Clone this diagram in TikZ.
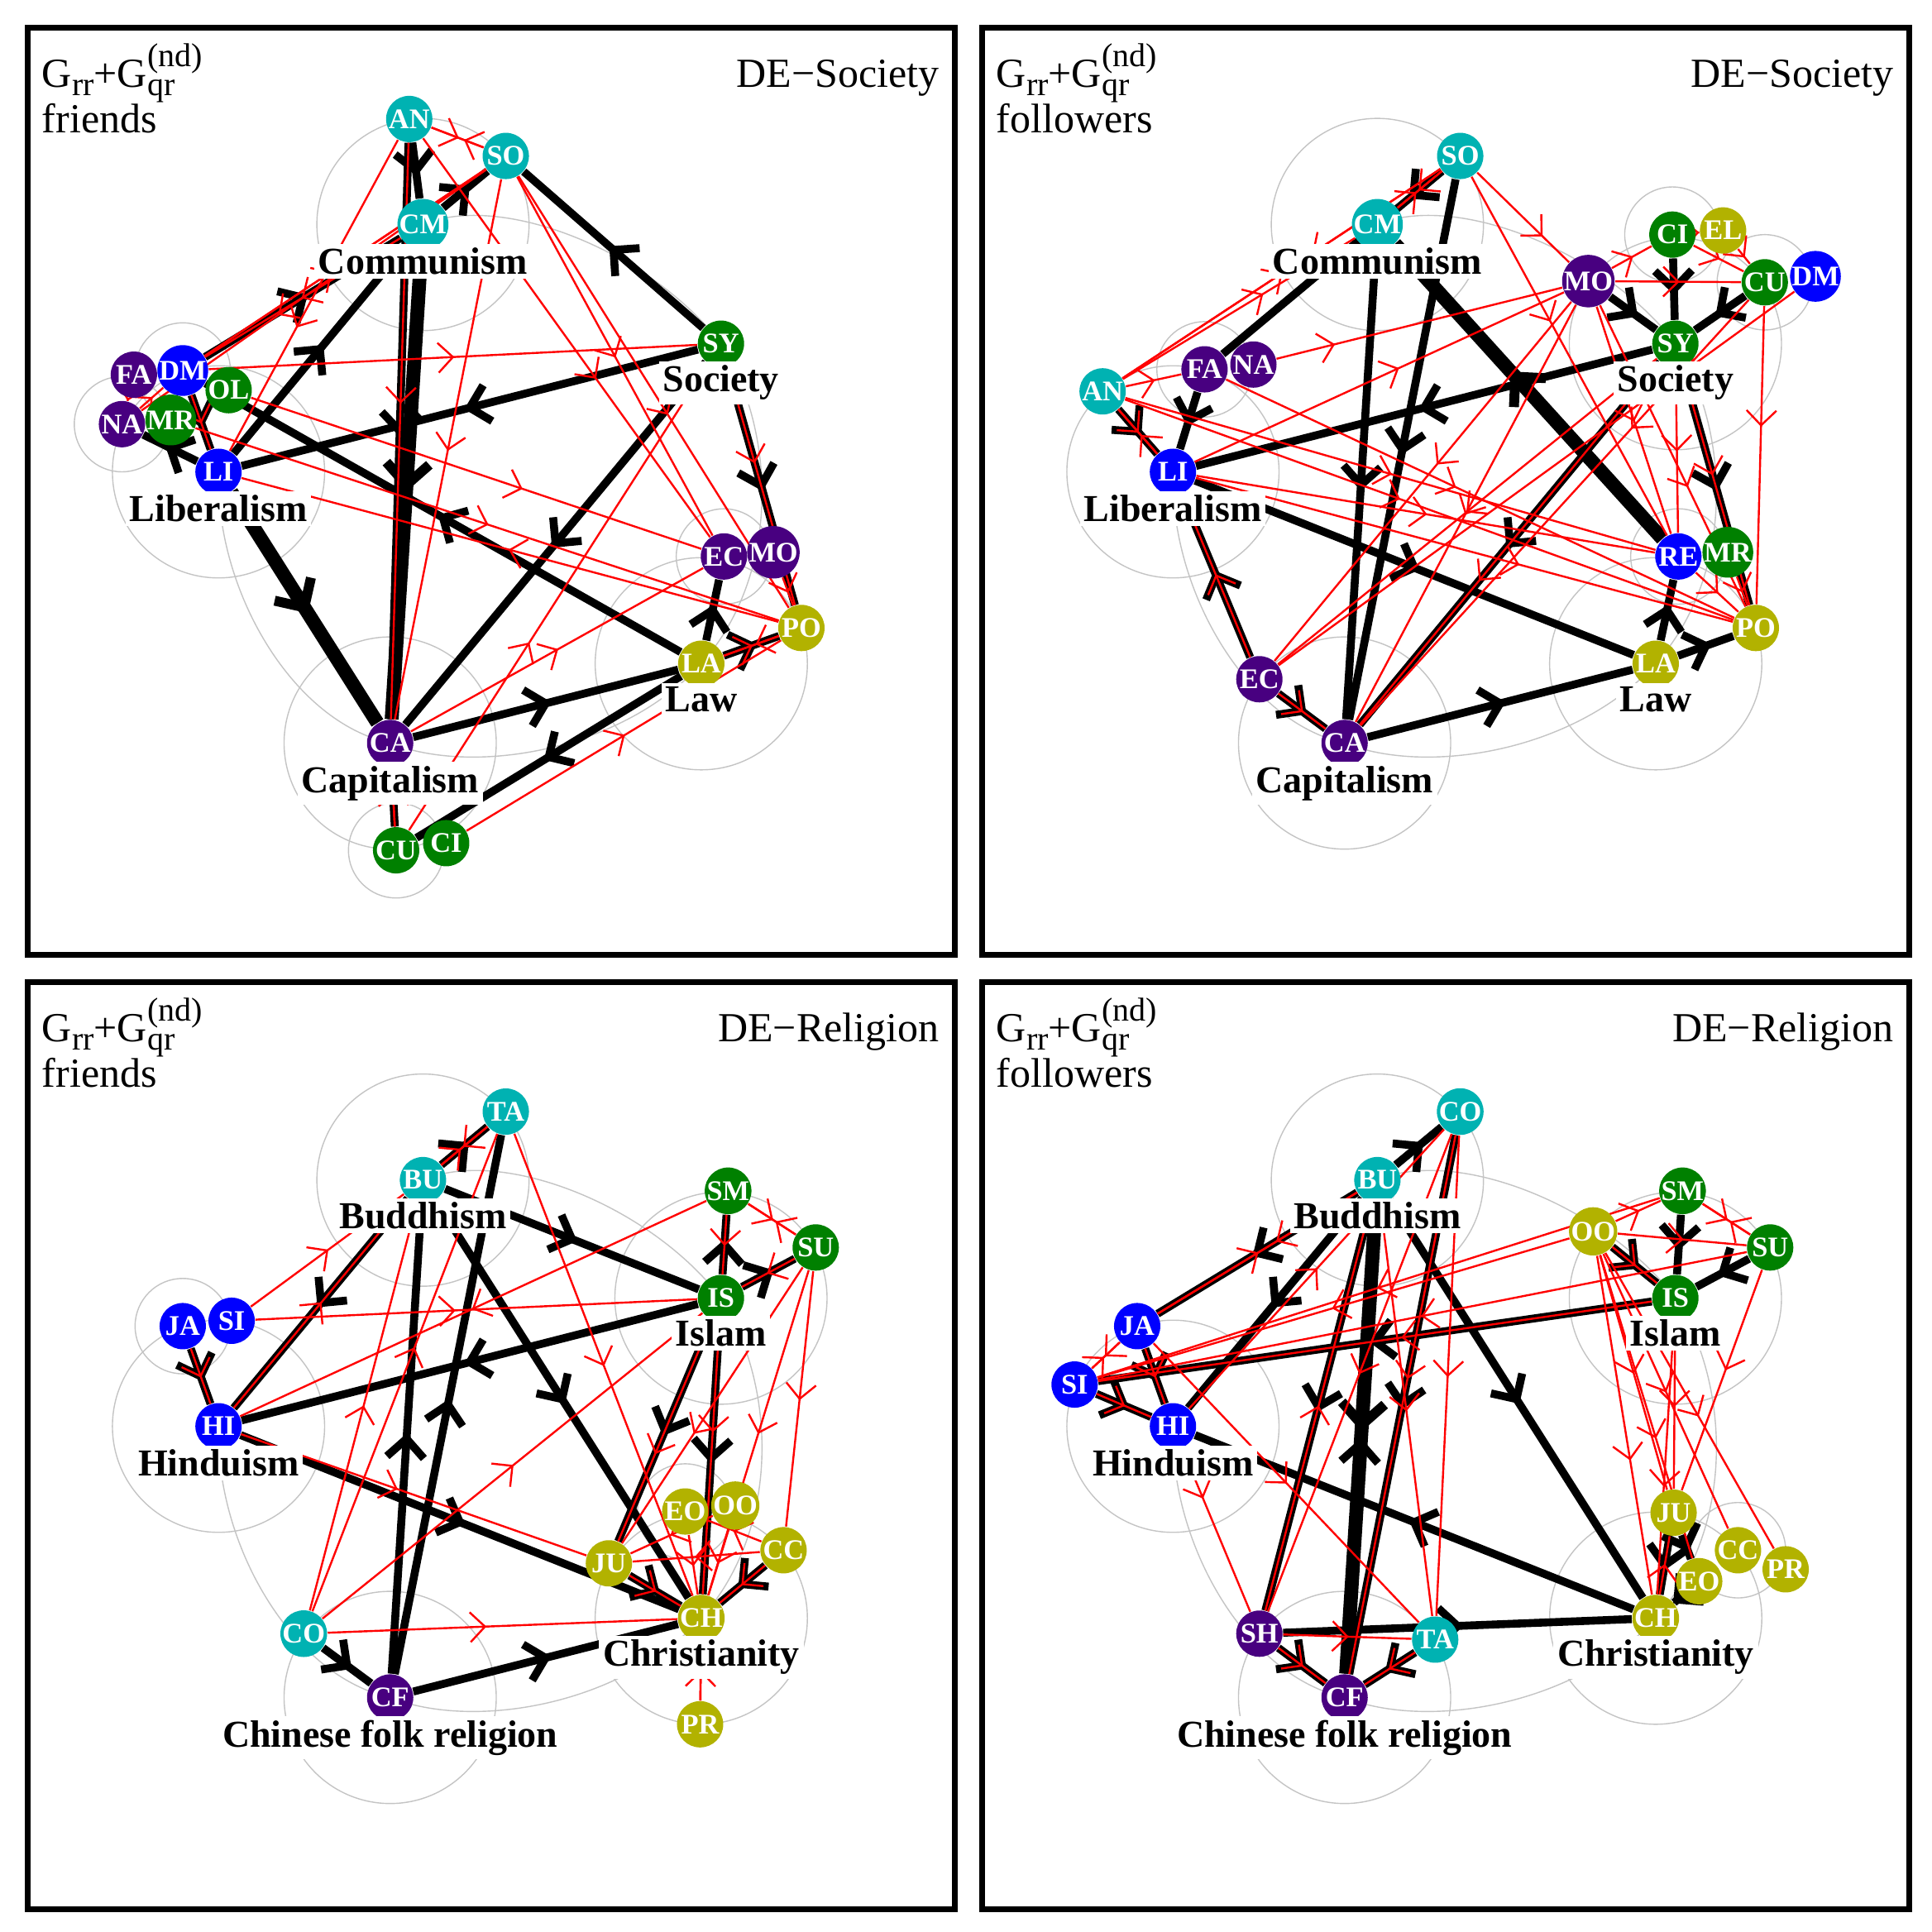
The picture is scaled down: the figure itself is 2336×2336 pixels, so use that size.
\documentclass[tikz,border=0pt]{standalone}
\usepackage{fontspec}
\setmainfont{Liberation Serif}
\usetikzlibrary{decorations.markings}
\pgfdeclarelayer{bg}
\pgfsetlayers{bg,main}
\definecolor{cyn}{RGB}{0,178,178}
\definecolor{pur}{RGB}{72,0,128}
\definecolor{grn}{RGB}{0,128,0}
\definecolor{olv}{RGB}{178,178,0}
\definecolor{gry}{RGB}{196,196,196}
\newcommand{\subsz}{\fontsize{10}{10}\selectfont}
\newcommand{\grrhead}{G\smash{\raisebox{-2.4pt}{\subsz rr}}+G\rlap{\raisebox{6.3pt}{\subsz (nd)}}\smash{\raisebox{-2.4pt}{\subsz qr}}}
\tikzset{
 nd/.style={circle, minimum size=14pt, inner sep=0pt, text=white, font=\bfseries\fontsize{8.6}{8.6}\selectfont},
 cy/.style={nd, fill=cyn}, pu/.style={nd, fill=pur}, bu/.style={nd, fill=blue},
 gr/.style={nd, fill=grn}, ol/.style={nd, fill=olv},
 lab/.style={fill=white, inner sep=1.2pt, anchor=base, font=\bfseries\fontsize{11.5}{11.5}\selectfont},
 hd/.style={font=\fontsize{12.5}{12.5}\selectfont, inner sep=0pt},
 frm/.style={line width=1.75pt},
 gc/.style={draw=gry, line width=0.35pt},
 bk/.style={line width=2.4pt, postaction={decorate}, decoration={markings, mark=at position #1 with {\draw[black, line width=2.4pt] (-5.6pt,5.6pt) -- (0pt,0pt) -- (-5.6pt,-5.6pt);}}},
 bk/.default=0.5,
 bkk/.style={line width=4.2pt, postaction={decorate}, decoration={markings, mark=at position #1 with {\draw[black, line width=3pt] (-6.5pt,6.5pt) -- (0pt,0pt) -- (-6.5pt,-6.5pt);}}},
 bkk/.default=0.5,
 rd/.style={red, line width=0.6pt, postaction={decorate}, decoration={markings, mark=at position #1 with {\draw[red, line width=0.6pt] (-4.5pt,4.5pt) -- (0pt,0pt) -- (-4.5pt,-4.5pt);}}},
 rd/.default=0.5,
}
\begin{document}
\begin{tikzpicture}[x=0.25pt,y=-0.25pt]
\begin{pgfonlayer}{bg}\fill[white] (0,0) rectangle (2336,2336);\end{pgfonlayer}
\useasboundingbox (0,0) rectangle (2336,2336);

% ================= Panel A: friends, DE-Society =================
\begin{scope}[shift={(30,30)},x=0.180165pt,y=-0.180165pt]
\draw[frm] (5,5) rectangle (1560,1560);
\node[hd,anchor=base west] (aH1) at (28,105) {\grrhead};
\node[hd,anchor=base west] (aH2) at (28,181) {friends};
\node[hd,anchor=base east] (aH3) at (1535,105) {DE−Society};
\node[cy] (aAN) at (645,158) {AN};
\node[cy] (aSO) at (807,220) {SO};
\node[cy] (aCM) at (668,335) {CM};
\node[gr] (aSY) at (1168,535) {SY};
\node[pu] (aFA) at (183,587) {FA};
\node[bu] (aDM) at (265,580) {DM};
\node[gr] (aOL) at (342,613) {OL};
\node[pu] (aNA) at (163,670) {NA};
\node[gr] (aMR) at (245,663) {MR};
\node[bu] (aLI) at (325,750) {LI};
\node[pu] (aEC) at (1173,892) {EC};
\node[pu] (aMO) at (1256,885) {MO};
\node[ol] (aPO) at (1303,1012) {PO};
\node[ol] (aLA) at (1135,1072) {LA};
\node[pu] (aCA) at (613,1205) {CA};
\node[gr] (aCU) at (623,1385) {CU};
\node[gr] (aCI) at (707,1373) {CI};
\node[lab] (aCMl) at (668,418) {Communism};
\node[lab] (aSYl) at (1168,616) {Society};
\node[lab] (aLIl) at (325,833) {Liberalism};
\node[lab] (aLAl) at (1135,1153) {Law};
\node[lab] (aCAl) at (613,1288) {Capitalism};
\begin{pgfonlayer}{bg}
\foreach \n in {CM,LI,CA,LA} \draw[gc] (a\n.center) circle[radius=178];
\foreach \n in {DM,NA,EC,CU} \draw[gc] (a\n.center) circle[radius=80];
\draw[gc] (aCM.center) .. controls (800,280) and (1050,380) .. (aSY.center);
\draw[gc] (aLI.center) .. controls (320,950) and (450,1170) .. (aCA.center);
\draw[gc] (aCA.center) .. controls (750,1260) and (1000,1220) .. (aLA.center);
\draw[gc] (aSY.center) .. controls (1260,680) and (1270,920) .. (aLA.center);
\foreach \s/\t in {SY/SO,SY/LI,SY/CA,LI/CM,DM/CM,LA/DM,CA/LA,LA/CU,CA/CU,LA/EC,LA/PO,SY/PO,CM/SO,AN/CM,AN/CA,LI/NA,DM/LI}
  \draw[bk] (a\s) -- (a\t);
\foreach \s/\t in {LI/CA,CM/CA} \draw[bkk] (a\s) -- (a\t);
\foreach \s/\t/\p in {AN/SO/0.5,SO/AN/0.35,SO/DM/0.55,DM/SO/0.45,CM/DM/0.5,SO/NA/0.6,AN/LI/0.6,AN/EC/0.6,DM/SY/0.5,SO/EC/0.5,SO/PO/0.55,PO/LI/0.5,MR/PO/0.5,OL/EC/0.6,CA/EC/0.5,CU/SY/0.4,CI/PO/0.5,LA/PO/0.5,PO/LA/0.4,SY/PO/0.4,MO/PO/0.5,CA/CU/0.5,CU/CA/0.6,AN/CA/0.45,SO/CA/0.5,DM/LI/0.5,FA/NA/0.5,NA/DM/0.5}
  \draw[rd=\p] (a\s) -- (a\t);
\end{pgfonlayer}
\end{scope}

% ================= Panel B: followers, DE-Society =================
\begin{scope}[shift={(1184,30)},x=0.180165pt,y=-0.180165pt]
\draw[frm] (5,5) rectangle (1560,1560);
\node[hd,anchor=base west] (bH1) at (28,105) {\grrhead};
\node[hd,anchor=base west] (bH2) at (28,181) {followers};
\node[hd,anchor=base east] (bH3) at (1535,105) {DE−Society};
\node[cy] (bSO) at (807,220) {SO};
\node[cy] (bCM) at (668,335) {CM};
\node[gr] (bCI) at (1163,352) {CI};
\node[ol] (bEL) at (1248,345) {EL};
\node[pu] (bMO) at (1022,430) {MO};
\node[gr] (bCU) at (1318,432) {CU};
\node[bu] (bDM) at (1403,422) {DM};
\node[gr] (bSY) at (1168,535) {SY};
\node[pu] (bFA) at (378,578) {FA};
\node[pu] (bNA) at (460,570) {NA};
\node[cy] (bAN) at (207,615) {AN};
\node[bu] (bLI) at (325,750) {LI};
\node[bu] (bRE) at (1173,892) {RE};
\node[gr] (bMR) at (1256,885) {MR};
\node[ol] (bPO) at (1303,1012) {PO};
\node[ol] (bLA) at (1135,1072) {LA};
\node[pu] (bEC) at (470,1098) {EC};
\node[pu] (bCA) at (613,1205) {CA};
\node[lab] (bCMl) at (668,418) {Communism};
\node[lab] (bSYl) at (1168,616) {Society};
\node[lab] (bLIl) at (325,833) {Liberalism};
\node[lab] (bLAl) at (1135,1153) {Law};
\node[lab] (bCAl) at (613,1288) {Capitalism};
\begin{pgfonlayer}{bg}
\foreach \n in {CM,SY,LI,CA,LA} \draw[gc] (b\n.center) circle[radius=178];
\foreach \n in {FA,CI,CU,RE} \draw[gc] (b\n.center) circle[radius=80];
\draw[gc] (bCM.center) .. controls (800,280) and (1050,380) .. (bSY.center);
\draw[gc] (bLI.center) .. controls (320,950) and (450,1170) .. (bCA.center);
\draw[gc] (bCA.center) .. controls (750,1260) and (1000,1220) .. (bLA.center);
\draw[gc] (bSY.center) .. controls (1260,680) and (1270,920) .. (bLA.center);
\foreach \s/\t in {SO/CA,CM/CA,SY/LI,SY/CA,MO/SY,CI/SY,CU/SY,SY/PO,LI/LA,CA/LA,LA/RE,LA/PO,AN/LI,FA/LI,EC/LI,EC/CA}
  \draw[bk] (b\s) -- (b\t);
\draw[bk=0.13] (bSO) -- (bFA);
\draw[bkk=0.55] (bRE) -- (bCM);
\foreach \s/\t/\p in {SO/CM/0.5,CM/SO/0.4,AN/SO/0.5,SO/AN/0.4,AN/CM/0.6,SO/MO/0.7,SO/RE/0.4,NA/MO/0.2,LI/MO/0.55,AN/FA/0.5,AN/RE/0.5,AN/PO/0.45,FA/PO/0.45,LI/RE/0.5,LI/PO/0.6,MO/EC/0.45,SY/EC/0.5,MO/CA/0.5,CU/PO/0.4,DM/EC/0.2,CU/CA/0.3,SY/CA/0.6,MO/CI/0.5,MO/CU/0.5,CI/CU/0.5,EL/CU/0.5,CI/EL/0.5,MO/RE/0.5,MO/PO/0.6,SY/PO/0.45,EC/LI/0.5,EC/CA/0.5,AN/LI/0.5,LI/AN/0.4,RE/PO/0.5,MR/PO/0.5,SY/RE/0.5}
  \draw[rd=\p] (b\s) -- (b\t);
\end{pgfonlayer}
\end{scope}

% ================= Panel C: friends, DE-Religion =================
\begin{scope}[shift={(30,1184)},x=0.180165pt,y=-0.180165pt]
\draw[frm] (5,5) rectangle (1560,1560);
\node[hd,anchor=base west] (cH1) at (28,105) {\grrhead};
\node[hd,anchor=base west] (cH2) at (28,181) {friends};
\node[hd,anchor=base east] (cH3) at (1535,105) {DE−Religion};
\node[cy] (cTA) at (807,222) {TA};
\node[cy] (cBU) at (668,337) {BU};
\node[gr] (cSM) at (1180,355) {SM};
\node[gr] (cSU) at (1327,450) {SU};
\node[gr] (cIS) at (1168,535) {IS};
\node[bu] (cJA) at (265,582) {JA};
\node[bu] (cSI) at (347,573) {SI};
\node[bu] (cHI) at (325,750) {HI};
\node[ol] (cEO) at (1108,893) {EO};
\node[ol] (cOO) at (1192,883) {OO};
\node[ol] (cCC) at (1273,958) {CC};
\node[ol] (cJU) at (980,980) {JU};
\node[ol] (cCH) at (1135,1072) {CH};
\node[ol] (cPR) at (1133,1250) {PR};
\node[cy] (cCO) at (468,1098) {CO};
\node[pu] (cCF) at (613,1205) {CF};
\node[lab] (cBUl) at (668,418) {Buddhism};
\node[lab] (cISl) at (1168,616) {Islam};
\node[lab] (cHIl) at (325,833) {Hinduism};
\node[lab] (cCHl) at (1135,1153) {Christianity};
\node[lab] (cCFl) at (613,1288) {Chinese folk religion};
\begin{pgfonlayer}{bg}
\foreach \n in {BU,IS,HI,CF,CH} \draw[gc] (c\n.center) circle[radius=178];
\foreach \n in {JA,EO} \draw[gc] (c\n.center) circle[radius=80];
\draw[gc] (cBU.center) .. controls (800,280) and (1050,380) .. (cIS.center);
\draw[gc] (cHI.center) .. controls (320,950) and (450,1170) .. (cCF.center);
\draw[gc] (cCF.center) .. controls (750,1260) and (1000,1220) .. (cCH.center);
\draw[gc] (cIS.center) .. controls (1260,680) and (1270,920) .. (cCH.center);
\foreach \s/\t in {BU/TA,CF/TA,CF/BU,BU/HI,BU/IS,BU/CH,IS/HI,HI/CH,JA/HI,IS/SM,IS/SU,IS/CH,IS/JU,CC/CH,JU/CH,CO/CF,CF/CH}
  \draw[bk] (c\s) -- (c\t);
\foreach \s/\t/\p in {TA/BU/0.5,BU/TA/0.4,TA/CH/0.5,SI/BU/0.5,SI/IS/0.45,SM/HI/0.5,HI/BU/0.5,CO/BU/0.5,CO/TA/0.55,CO/IS/0.5,CO/CH/0.45,HI/JU/0.45,JA/HI/0.5,SU/CH/0.5,SM/SU/0.5,SU/SM/0.4,IS/CH/0.4,IS/JU/0.6,PR/CH/0.5,CH/PR/0.4,JU/CH/0.5,EO/CH/0.5,OO/CH/0.5,CC/CH/0.5,CC/JU/0.5,OO/JU/0.5,SU/JU/0.6,SU/IS/0.5,SM/IS/0.5,CC/EO/0.5,SU/CC/0.5}
  \draw[rd=\p] (c\s) -- (c\t);
\end{pgfonlayer}
\end{scope}

% ================= Panel D: followers, DE-Religion =================
\begin{scope}[shift={(1184,1184)},x=0.180165pt,y=-0.180165pt]
\draw[frm] (5,5) rectangle (1560,1560);
\node[hd,anchor=base west] (dH1) at (28,105) {\grrhead};
\node[hd,anchor=base west] (dH2) at (28,181) {followers};
\node[hd,anchor=base east] (dH3) at (1535,105) {DE−Religion};
\node[cy] (dCO) at (807,222) {CO};
\node[cy] (dBU) at (668,337) {BU};
\node[gr] (dSM) at (1180,355) {SM};
\node[ol] (dOO) at (1030,423) {OO};
\node[gr] (dSU) at (1327,450) {SU};
\node[gr] (dIS) at (1168,535) {IS};
\node[bu] (dJA) at (265,582) {JA};
\node[bu] (dSI) at (160,680) {SI};
\node[bu] (dHI) at (325,750) {HI};
\node[ol] (dJU) at (1165,895) {JU};
\node[ol] (dCC) at (1273,958) {CC};
\node[ol] (dPR) at (1353,990) {PR};
\node[ol] (dEO) at (1208,1010) {EO};
\node[ol] (dCH) at (1135,1072) {CH};
\node[pu] (dSH) at (470,1098) {SH};
\node[cy] (dTA) at (765,1108) {TA};
\node[pu] (dCF) at (613,1205) {CF};
\node[lab] (dBUl) at (668,418) {Buddhism};
\node[lab] (dISl) at (1168,616) {Islam};
\node[lab] (dHIl) at (325,833) {Hinduism};
\node[lab] (dCHl) at (1135,1153) {Christianity};
\node[lab] (dCFl) at (613,1288) {Chinese folk religion};
\begin{pgfonlayer}{bg}
\foreach \n in {BU,IS,HI,CF,CH} \draw[gc] (d\n.center) circle[radius=178];
\foreach \n in {CC} \draw[gc] (d\n.center) circle[radius=80];
\draw[gc] (dBU.center) .. controls (800,280) and (1050,380) .. (dIS.center);
\draw[gc] (dHI.center) .. controls (320,950) and (450,1170) .. (dCF.center);
\draw[gc] (dCF.center) .. controls (750,1260) and (1000,1220) .. (dCH.center);
\draw[gc] (dIS.center) .. controls (1260,680) and (1270,920) .. (dCH.center);
\foreach \s/\t in {BU/CO,CO/CF,BU/SH,BU/JA,BU/HI,BU/CH,IS/SI,CH/HI,SH/CH,SH/CF,TA/CF,SI/HI,JA/HI,OO/IS,SM/IS,SU/IS,JU/CH,EO/CH,JU/EO}
  \draw[bk] (d\s) -- (d\t);
\draw[bkk=0.47] (dBU) -- (dCF);
\draw[bk=0.49] (dCF) -- (dBU);
\foreach \s/\t/\p in {OO/SI/0.5,SM/SI/0.5,SU/SI/0.5,IS/SI/0.45,OO/SM/0.5,OO/SU/0.5,OO/IS/0.5,SM/SU/0.5,SU/SM/0.4,OO/CH/0.6,OO/JU/0.5,OO/EO/0.6,OO/CC/0.5,OO/PR/0.55,SU/JU/0.45,IS/JU/0.5,IS/CH/0.6,JA/SI/0.5,SI/JA/0.4,JA/BU/0.5,BU/JA/0.4,JA/TA/0.5,HI/CO/0.5,HI/SH/0.3,CO/TA/0.5,BU/TA/0.5,CO/SH/0.5,SH/BU/0.5,CO/CF/0.45,SH/TA/0.5,SH/CF/0.5,TA/CF/0.5,SI/HI/0.5,JA/HI/0.5,CH/JU/0.5}
  \draw[rd=\p] (d\s) -- (d\t);
\end{pgfonlayer}
\end{scope}
\end{tikzpicture}
\end{document}
